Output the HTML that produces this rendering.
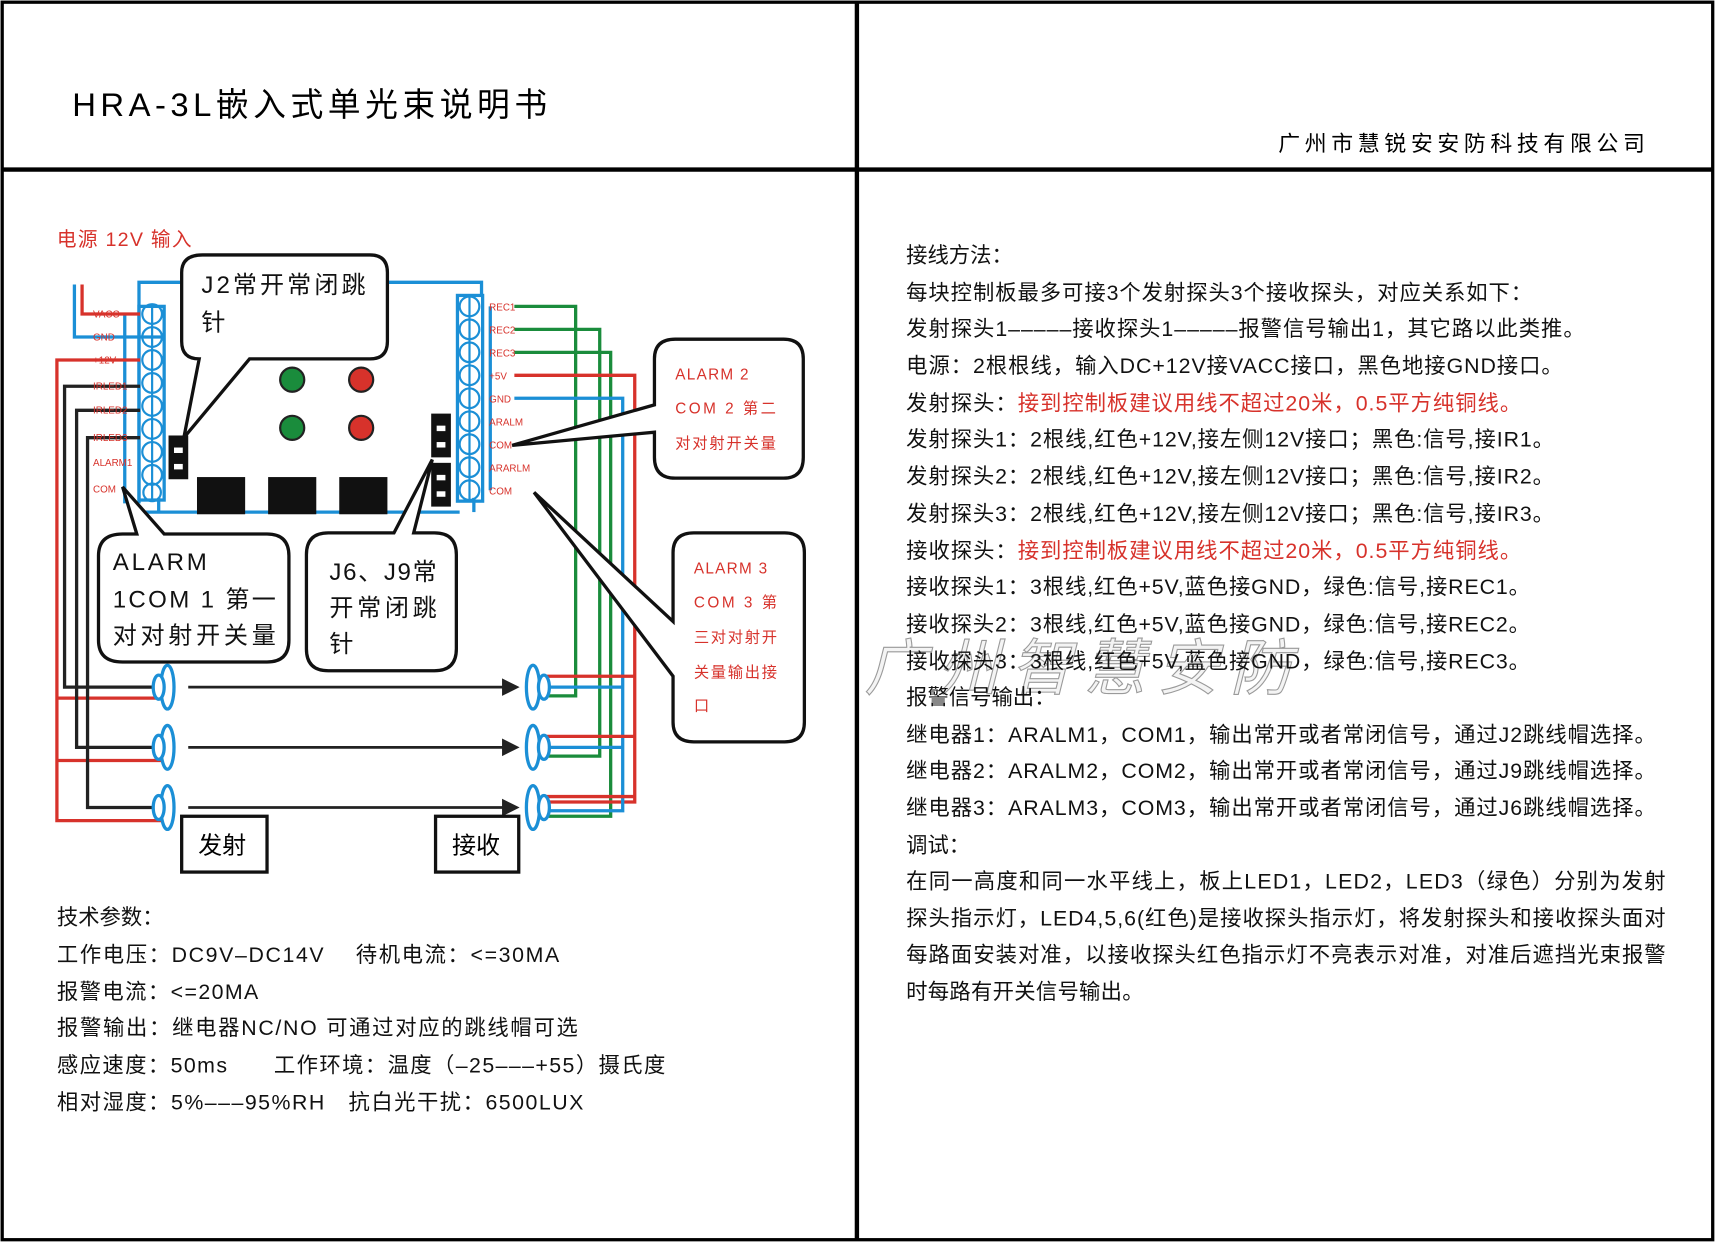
<!DOCTYPE html>
<html><head><meta charset="utf-8"><style>
html,body{margin:0;padding:0;background:#fff}
svg{display:block}
text{font-family:"Liberation Sans","Noto Sans CJK SC",sans-serif}
</style></head><body>
<svg width="1716" height="1243" viewBox="0 0 1568 1136" preserveAspectRatio="none" xmlns="http://www.w3.org/2000/svg">
<rect x="0" y="0" width="1568" height="1136" fill="#fff"/>
<g stroke="#000" fill="none">
<rect x="2" y="2" width="1563" height="1131" stroke-width="3"/>
<line x1="783" y1="2" x2="783" y2="1133" stroke-width="4"/>
<line x1="2" y1="155" x2="1565" y2="155" stroke-width="4"/>
</g>
<text x="66" y="106" font-size="30" textLength="434" lengthAdjust="spacing">HRA-3L嵌入式单光束说明书</text>
<text x="1168" y="138" font-size="20" textLength="335" lengthAdjust="spacing">广州市慧锐安安防科技有限公司</text>

<text x="52" y="225" font-size="18" fill="#d7322b" textLength="123" lengthAdjust="spacing">电源 12V 输入</text>

<g stroke="#1b8fd6" stroke-width="3" fill="none">
<polyline points="127,460 127,258 440,258 440,270"/>
<line x1="127" y1="468" x2="420" y2="468"/>
<line x1="145" y1="468" x2="145" y2="455"/>
<line x1="433" y1="468" x2="433" y2="455"/>
<rect x="127" y="280" width="23" height="177"/>
<rect x="418" y="270" width="23" height="188"/>
<line x1="114" y1="287" x2="114" y2="460"/>
<line x1="448" y1="280" x2="448" y2="448"/>
<polyline points="68,260 68,308 150,308"/>
</g>
<g fill="none" stroke="#1b8fd6" stroke-width="2">
<circle cx="139" cy="287" r="9"/><circle cx="139" cy="308" r="9"/><circle cx="139" cy="329" r="9"/><circle cx="139" cy="350" r="9"/><circle cx="139" cy="371" r="9"/><circle cx="139" cy="392" r="9"/><circle cx="139" cy="413" r="9"/><circle cx="139" cy="434" r="9"/><circle cx="139" cy="450" r="8"/>
<circle cx="429" cy="280" r="9"/><circle cx="429" cy="301" r="9"/><circle cx="429" cy="322" r="9"/><circle cx="429" cy="343" r="9"/><circle cx="429" cy="364" r="9"/><circle cx="429" cy="385" r="9"/><circle cx="429" cy="406" r="9"/><circle cx="429" cy="427" r="9"/><circle cx="429" cy="448" r="9"/>
</g>
<g stroke="#1b8fd6" stroke-width="2">
<line x1="139" y1="278" x2="139" y2="458"/><line x1="429" y1="270" x2="429" y2="458"/>
</g>
<g fill="none" stroke-width="3">
<polyline points="75,260 75,287 128,287" stroke="#d7322b"/>
<polyline points="128,329 52,329 52,750 150,750" stroke="#d7322b"/>
<polyline points="52,638 150,638" stroke="#d7322b"/>
<polyline points="52,695 150,695" stroke="#d7322b"/>
<polyline points="128,353 59,353 59,628 140,628" stroke="#222"/>
<polyline points="128,375 70,375 70,683 140,683" stroke="#222"/>
<polyline points="128,400 80,400 80,738 140,738" stroke="#222"/>
<polyline points="470,280 526,280 526,636 498,636" stroke="#1a8c3c"/>
<polyline points="470,301 548,301 548,691 498,691" stroke="#1a8c3c"/>
<polyline points="470,322 558,322 558,746 498,746" stroke="#1a8c3c"/>
<polyline points="470,343 580,343 580,733 498,733" stroke="#d7322b"/>
<polyline points="470,364 569,364 569,741 498,741" stroke="#1b8fd6"/>
<line x1="498" y1="618" x2="580" y2="618" stroke="#d7322b"/>
<line x1="498" y1="628" x2="569" y2="628" stroke="#1b8fd6"/>
<line x1="498" y1="673" x2="580" y2="673" stroke="#d7322b"/>
<line x1="498" y1="683" x2="569" y2="683" stroke="#1b8fd6"/>
<line x1="498" y1="728" x2="580" y2="728" stroke="#d7322b"/>
</g>
<g font-size="9" fill="#d7322b">
<text x="85" y="290">VACC</text><text x="85" y="311">GND</text><text x="85" y="332">+12V</text><text x="85" y="356">IRLED1</text><text x="85" y="378">IRLED2</text><text x="85" y="403">IRLED3</text><text x="85" y="426">ALARM1</text><text x="85" y="450">COM</text>
<text x="447" y="284">REC1</text><text x="447" y="305">REC2</text><text x="447" y="326">REC3</text><text x="447" y="347">+5V</text><text x="447" y="368">GND</text><text x="447" y="389">ARALM</text><text x="447" y="410">COM</text><text x="447" y="431">ARARLM</text><text x="447" y="452">COM</text>
</g>
<g fill="#fff" stroke="#1b8fd6" stroke-width="3">
<ellipse cx="153" cy="628" rx="6" ry="20"/><ellipse cx="145" cy="628" rx="5" ry="11"/>
<ellipse cx="153" cy="683" rx="6" ry="20"/><ellipse cx="145" cy="683" rx="5" ry="11"/>
<ellipse cx="153" cy="738" rx="6" ry="20"/><ellipse cx="145" cy="738" rx="5" ry="11"/>
<ellipse cx="487" cy="628" rx="6" ry="20"/><ellipse cx="497" cy="628" rx="5" ry="11"/>
<ellipse cx="487" cy="683" rx="6" ry="20"/><ellipse cx="497" cy="683" rx="5" ry="11"/>
<ellipse cx="487" cy="738" rx="6" ry="20"/><ellipse cx="497" cy="738" rx="5" ry="11"/>
</g>
<g stroke="#222" stroke-width="2.5" fill="#222">
<line x1="172" y1="628" x2="462" y2="628"/><polygon points="472,628 460,622 460,634"/>
<line x1="172" y1="683" x2="462" y2="683"/><polygon points="472,683 460,677 460,689"/>
<line x1="172" y1="738" x2="462" y2="738"/><polygon points="472,738 460,732 460,744"/>
</g>
<g stroke="#222" stroke-width="2">
<circle cx="267" cy="347" r="11" fill="#1a8c3c"/><circle cx="330" cy="347" r="11" fill="#d7322b"/>
<circle cx="267" cy="391" r="11" fill="#1a8c3c"/><circle cx="330" cy="391" r="11" fill="#d7322b"/>
</g>
<g fill="#111">
<rect x="180" y="436" width="44" height="34"/><rect x="245" y="436" width="44" height="34"/><rect x="310" y="436" width="44" height="34"/>
<rect x="154" y="398" width="18" height="40"/>
<rect x="394" y="378" width="18" height="40"/><rect x="394" y="423" width="18" height="40"/>
</g>
<g fill="#fff"><rect x="159" y="409" width="8" height="5"/><rect x="159" y="424" width="8" height="5"/><rect x="399" y="389" width="8" height="5"/><rect x="399" y="404" width="8" height="5"/><rect x="399" y="434" width="8" height="5"/><rect x="399" y="449" width="8" height="5"/></g>

<g fill="#fff" stroke="#111" stroke-width="3">
<path d="M185,233 H338 Q354,233 354,249 V312 Q354,328 338,328 H228 L168,400 L182,328 Q166,328 166,312 V249 Q166,233 185,233 Z"/>
<path d="M112,488 Q90,488 90,508 V585 Q90,605 112,605 H244 Q264,605 264,585 V508 Q264,488 244,488 H150 L112,445 L125,488 Z"/>
<path d="M300,487 Q280,487 280,507 V593 Q280,613 300,613 H397 Q417,613 417,593 V507 Q417,487 397,487 H378 L395,420 L360,487 Z"/>
<path d="M617,310 H716 Q734,310 734,328 V418 Q734,437 716,437 H617 Q598,437 598,418 V395 L468,407 L598,370 V328 Q598,310 617,310 Z"/>
<path d="M634,487 H717 Q735,487 735,505 V660 Q735,678 717,678 H634 Q615,678 615,660 V618 L488,450 L615,568 V505 Q615,487 634,487 Z"/>
</g>
<g font-size="22" fill="#111">
<text x="184" y="268" textLength="150" lengthAdjust="spacing">J2常开常闭跳</text><text x="184" y="302">针</text>
<text x="103" y="521" textLength="86" lengthAdjust="spacing">ALARM</text><text x="103" y="555" textLength="149" lengthAdjust="spacing">1COM 1 第一</text><text x="103" y="588" textLength="149" lengthAdjust="spacing">对对射开关量</text>
<text x="301" y="530" textLength="98" lengthAdjust="spacing">J6、J9常</text><text x="301" y="563" textLength="98" lengthAdjust="spacing">开常闭跳</text><text x="301" y="596">针</text>
</g>
<g font-size="14" fill="#d7322b">
<text x="617" y="347" textLength="67" lengthAdjust="spacing">ALARM 2</text><text x="617" y="378" textLength="92" lengthAdjust="spacing">COM 2 第二</text><text x="617" y="410" textLength="92" lengthAdjust="spacing">对对射开关量</text>
<text x="634" y="524" textLength="67" lengthAdjust="spacing">ALARM 3</text><text x="634" y="555" textLength="76" lengthAdjust="spacing">COM 3 第</text><text x="634" y="587" textLength="76" lengthAdjust="spacing">三对对射开</text><text x="634" y="619" textLength="76" lengthAdjust="spacing">关量输出接</text><text x="634" y="650">口</text>
</g>
<g fill="#fff" stroke="#111" stroke-width="3">
<rect x="166" y="746" width="78" height="51"/><rect x="398" y="746" width="76" height="51"/>
</g>
<text x="181" y="780" font-size="22">发射</text><text x="413" y="780" font-size="22">接收</text>

<g font-size="19.5" fill="#111">
<text x="52" y="845">技术参数：</text>
<text x="52" y="879" textLength="459" lengthAdjust="spacing">工作电压：DC9V–DC14V　 待机电流：&lt;=30MA</text>
<text x="52" y="913" textLength="184" lengthAdjust="spacing">报警电流：&lt;=20MA</text>
<text x="52" y="946" textLength="476" lengthAdjust="spacing">报警输出：继电器NC/NO  可通过对应的跳线帽可选</text>
<text x="52" y="980" textLength="556" lengthAdjust="spacing">感应速度：50ms　　工作环境：温度（–25–––+55）摄氏度</text>
<text x="52" y="1014" textLength="481" lengthAdjust="spacing">相对湿度：5%–––95%RH　抗白光干扰：6500LUX</text>
</g>

<text x="790" y="630" font-size="56" fill="#f4f4f4" stroke="#9a9a9a" stroke-width="1" font-style="italic" textLength="390" lengthAdjust="spacing">广州智慧安防</text>
<g font-size="19.5" fill="#111">
<text x="828" y="240">接线方法：</text>
<text x="828" y="274" textLength="572" lengthAdjust="spacing">每块控制板最多可接3个发射探头3个接收探头，对应关系如下：</text>
<text x="828" y="307" textLength="620" lengthAdjust="spacing">发射探头1–––––接收探头1–––––报警信号输出1，其它路以此类推。</text>
<text x="828" y="341" textLength="600" lengthAdjust="spacing">电源：2根根线，输入DC+12V接VACC接口，黑色地接GND接口。</text>
<text x="828" y="375" textLength="562" lengthAdjust="spacing">发射探头：<tspan fill="#d7322b">接到控制板建议用线不超过20米，0.5平方纯铜线。</tspan></text>
<text x="828" y="408" textLength="592" lengthAdjust="spacing">发射探头1：2根线,红色+12V,接左侧12V接口；黑色:信号,接IR1。</text>
<text x="828" y="442" textLength="592" lengthAdjust="spacing">发射探头2：2根线,红色+12V,接左侧12V接口；黑色:信号,接IR2。</text>
<text x="828" y="476" textLength="592" lengthAdjust="spacing">发射探头3：2根线,红色+12V,接左侧12V接口；黑色:信号,接IR3。</text>
<text x="828" y="510" textLength="562" lengthAdjust="spacing">接收探头：<tspan fill="#d7322b">接到控制板建议用线不超过20米，0.5平方纯铜线。</tspan></text>
<text x="828" y="543" textLength="570" lengthAdjust="spacing">接收探头1：3根线,红色+5V,蓝色接GND，绿色:信号,接REC1。</text>
<text x="828" y="577" textLength="570" lengthAdjust="spacing">接收探头2：3根线,红色+5V,蓝色接GND，绿色:信号,接REC2。</text>
<text x="828" y="611" textLength="570" lengthAdjust="spacing">接收探头3：3根线,红色+5V,蓝色接GND，绿色:信号,接REC3。</text>
<text x="828" y="644">报警信号输出：</text>
<text x="828" y="678" textLength="685" lengthAdjust="spacing">继电器1：ARALM1，COM1，输出常开或者常闭信号，通过J2跳线帽选择。</text>
<text x="828" y="711" textLength="685" lengthAdjust="spacing">继电器2：ARALM2，COM2，输出常开或者常闭信号，通过J9跳线帽选择。</text>
<text x="828" y="745" textLength="685" lengthAdjust="spacing">继电器3：ARALM3，COM3，输出常开或者常闭信号，通过J6跳线帽选择。</text>
<text x="828" y="779">调试：</text>
<text x="828" y="812" textLength="694" lengthAdjust="spacing">在同一高度和同一水平线上，板上LED1，LED2，LED3（绿色）分别为发射</text>
<text x="828" y="846" textLength="694" lengthAdjust="spacing">探头指示灯，LED4,5,6(红色)是接收探头指示灯，将发射探头和接收探头面对</text>
<text x="828" y="879" textLength="694" lengthAdjust="spacing">每路面安装对准，以接收探头红色指示灯不亮表示对准，对准后遮挡光束报警</text>
<text x="828" y="913" textLength="217" lengthAdjust="spacing">时每路有开关信号输出。</text>
</g>
</svg>
</body></html>
